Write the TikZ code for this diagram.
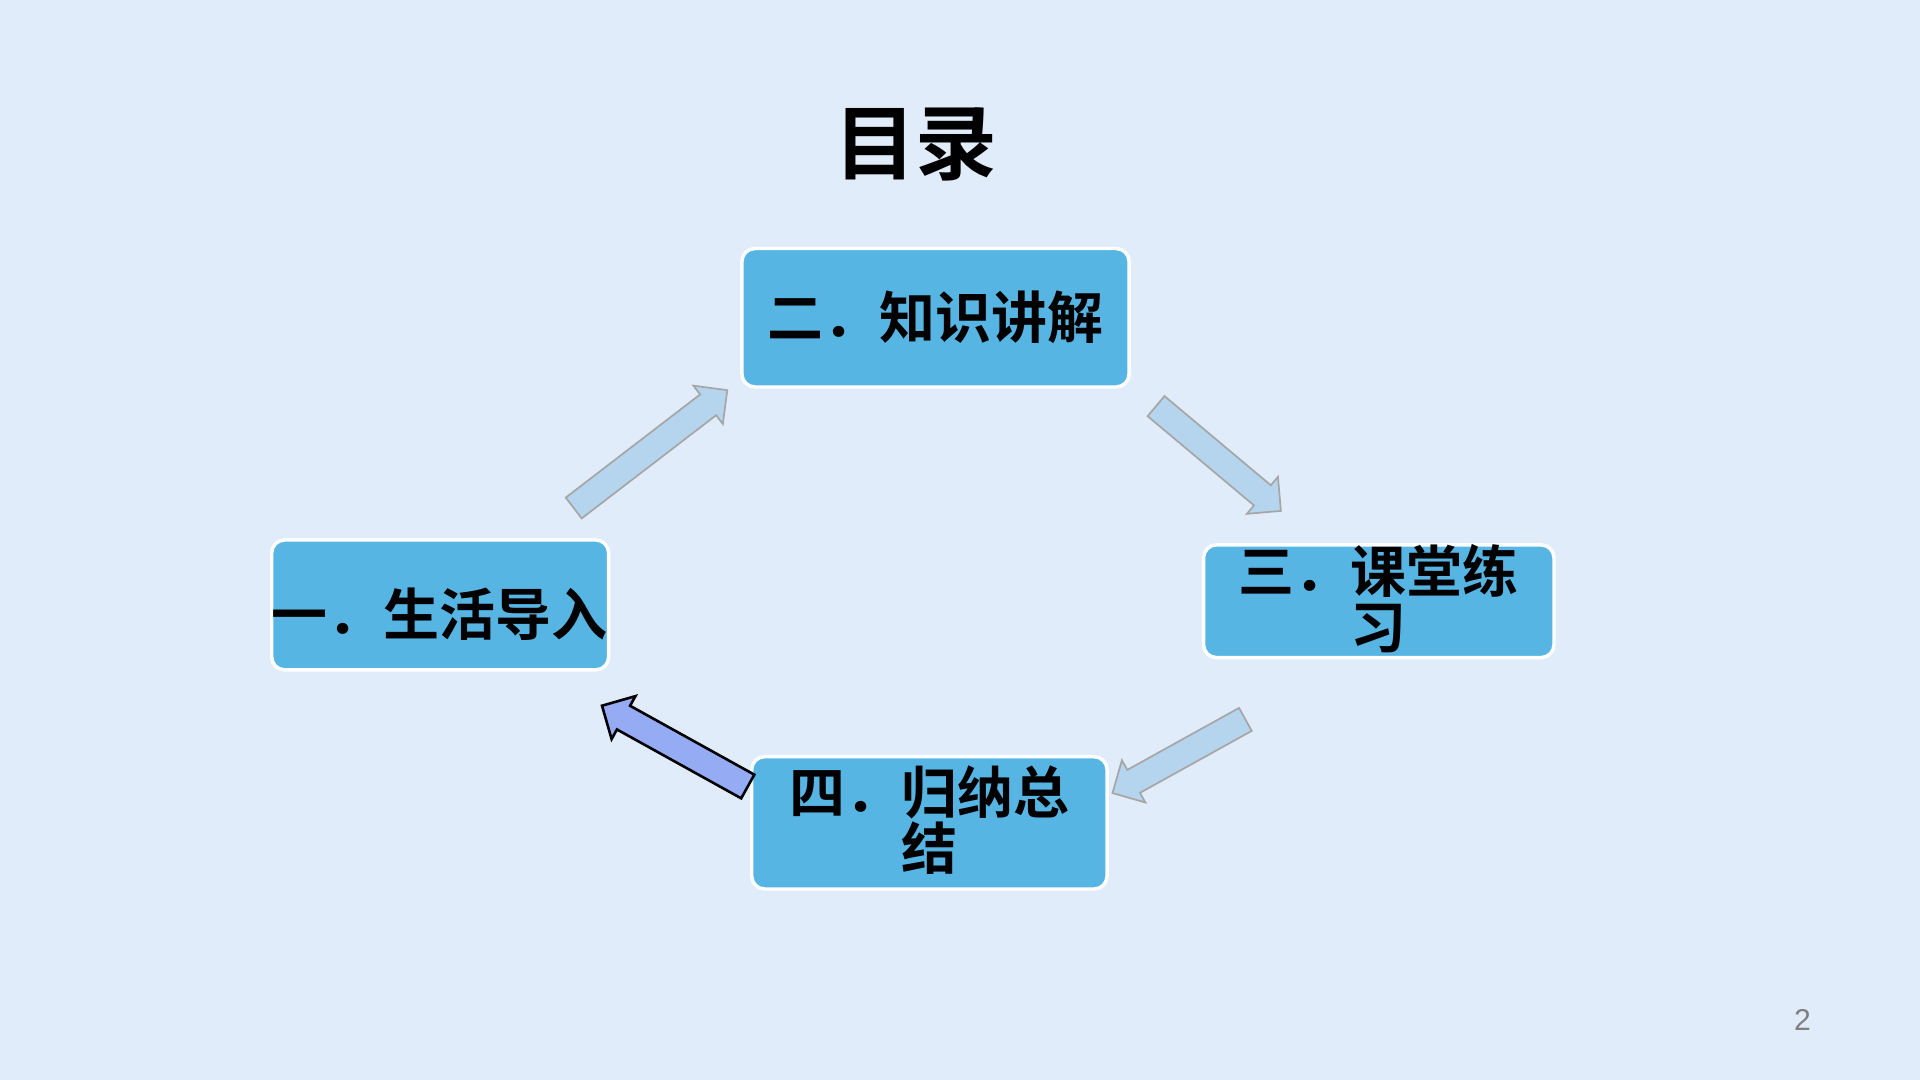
\documentclass[tikz,border=0pt]{standalone}
\usepackage{fontspec}
\setmainfont{Liberation Sans}
\newfontfamily\cjk{Noto Sans CJK SC}[BoldFont={Noto Sans CJK SC Bold}]
\usetikzlibrary{shapes.arrows, positioning}
\definecolor{bgblue}{HTML}{E0ECFA}
\definecolor{boxblue}{HTML}{57B5E4}
\definecolor{arrowblue}{HTML}{B5D5EF}
\tikzset{x=0.01cm, y=-0.01cm,
every topic/.style={ % topic boxes
rounded corners=3pt, fill=boxblue, draw=white, thick,
font=\cjk\bfseries\fontsize{13pt}{14pt}\selectfont, align=center,
inner sep=0pt},
flow/.style={ % block arrows
single arrow, fill=arrowblue, draw=gray!70, thin,
inner sep=0pt, minimum width=0.38cm, single arrow head extend=0.09cm,
text height=0.2cm, text depth=0pt}}

\begin{document}
\begin{tikzpicture}
    \fill[bgblue] (0,0) rectangle (1568,882);
    
    \node[font=\cjk\bfseries\fontsize{19pt}{20pt}\selectfont] (title) at (748,118) {目录};
    
    \node[every topic, minimum width=3.16cm, minimum height=1.13cm] (two) at (764,259.5) {二．知识讲解};
    \node[every topic, minimum width=2.75cm, minimum height=1.06cm] (one) at (359.5,494) {};
    \node[font=\cjk\bfseries\fontsize{13pt}{14pt}\selectfont] (onetext) at (359,502) {一．生活导入};
    \node[every topic, minimum width=2.86cm, minimum height=0.92cm] (three) at (1126,491) {};
    \node[font=\cjk\bfseries\fontsize{13pt}{13pt}\selectfont, align=center] (threetext) at (1126,489) {三．课堂练\\习};
    \node[every topic, minimum width=2.9cm, minimum height=1.08cm] (four) at (759,672) {};
    \node[font=\cjk\bfseries\fontsize{13pt}{13pt}\selectfont, align=center] (fourtext) at (759,670) {四．归纳总\\结};
    
    \node[flow, minimum height=1.58cm, rotate=37.5] (a) at (527,370) {};
    \node[flow, minimum height=1.33cm, rotate=-40] (b) at (991,371) {};
    \node[flow, minimum height=1.24cm, rotate=-151] (c) at (967.5,615) {};
    \node[flow, minimum height=1.36cm, rotate=151, fill=blue!25!arrowblue, draw=black, semithick, fill opacity=0.85] (d) at (556,612) {};
    
    \node[text=gray, font=\fontsize{7pt}{8pt}\selectfont] (page) at (1472,833) {2};
\end{tikzpicture}
\end{document}
